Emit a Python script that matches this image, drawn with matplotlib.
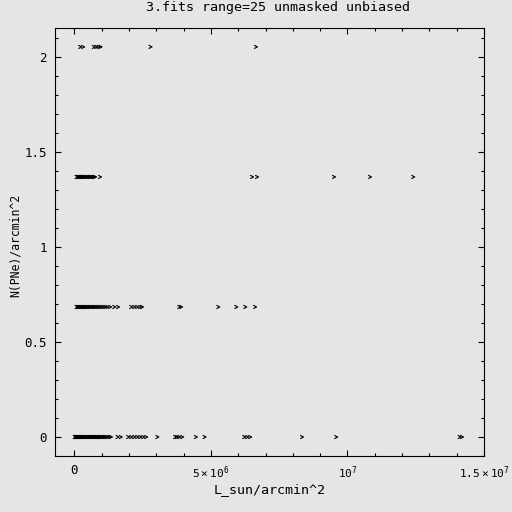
import matplotlib
matplotlib.use("Agg")
import matplotlib.pyplot as plt
from matplotlib.ticker import MultipleLocator

# ----------------------------
# data (x in units of 1e6 L_sun/arcmin^2)
LEVELS = [0.0, 0.6845, 1.369, 2.0535]

x_row0 = [0.0, 0.02, 0.05, 0.08, 0.10, 0.13, 0.15, 0.18, 0.20, 0.22, 0.25, 0.28,
          0.30, 0.33, 0.36, 0.40, 0.43, 0.46, 0.50, 0.53, 0.56, 0.60, 0.63, 0.66,
          0.70, 0.73, 0.77, 0.80, 0.84, 0.88, 0.92, 0.96, 1.00, 1.05, 1.10, 1.15,
          1.20, 1.27, 1.33, 1.57, 1.69, 1.96, 2.07, 2.18, 2.29, 2.40, 2.51, 2.62,
          3.03, 3.68, 3.75, 3.83, 3.94, 4.44, 4.76, 6.21, 6.32, 6.43, 8.33, 9.58,
          14.10, 14.19]
x_row1 = [0.07, 0.10, 0.14, 0.18, 0.22, 0.26, 0.30, 0.34, 0.38, 0.42, 0.46, 0.50,
          0.55, 0.60, 0.65, 0.70, 0.75, 0.80, 0.86, 0.92, 0.98, 1.05, 1.12, 1.20,
          1.30, 1.45, 1.59, 2.07, 2.18, 2.29, 2.40, 2.47, 3.83, 3.90, 5.26, 5.92,
          6.25, 6.61]
x_row2 = [0.07, 0.10, 0.14, 0.18, 0.22, 0.26, 0.30, 0.34, 0.38, 0.42, 0.46, 0.50,
          0.55, 0.60, 0.65, 0.70, 0.75, 0.93, 6.50, 6.68, 9.50, 10.82, 12.40]
x_row3 = [0.20, 0.31, 0.70, 0.79, 0.88, 0.95, 2.78, 6.64]

x_ticks = [0, 5e6, 1e7, 1.5e7]
x_ticklabels = ["0", r"$5\times10^6$", r"$10^7$", r"$1.5\times10^7$"]
y_ticks = [0, 0.5, 1, 1.5, 2]
y_ticklabels = ["0", "0.5", "1", "1.5", "2"]
# ----------------------------

BG = "#e5e5e5"
plt.rcParams["font.family"] = ["DejaVu Sans Mono"]
plt.rcParams["mathtext.default"] = "regular"
plt.rcParams["mathtext.fontset"] = "dejavusans"

fig = plt.figure(figsize=(5.12, 5.12), dpi=100, facecolor=BG)
ax = fig.add_axes([55 / 512, 56 / 512, 429 / 512, 428 / 512], facecolor=BG)

chevron = [(-1, 1), (1, 0), (-1, -1)]
for xs, lev in zip([x_row0, x_row1, x_row2, x_row3], LEVELS):
    ax.scatter([v * 1e6 for v in xs], [lev] * len(xs), marker=chevron, s=6,
               facecolors="none", edgecolors="black", linewidths=0.8)

ax.set_xlim(-0.714e6, 1.5e7)
ax.set_ylim(-0.1, 2.153)
ax.set_xticks(x_ticks)
ax.set_xticklabels(x_ticklabels, fontsize=8)
ax.get_xticklabels()[0].set_fontsize(9)
ax.set_yticks(y_ticks)
ax.set_yticklabels(y_ticklabels, fontsize=9)
ax.xaxis.set_minor_locator(MultipleLocator(1e6))
ax.yaxis.set_minor_locator(MultipleLocator(0.1))
ax.tick_params(which="both", direction="in", top=True, right=True,
               width=0.8, pad=6)
ax.tick_params(which="major", length=4)
ax.tick_params(which="minor", length=2)
for sp in ax.spines.values():
    sp.set_linewidth(0.8)

fig.text(278.5 / 512, 1 - 8 / 512, "3.fits range=25 unmasked unbiased",
         ha="center", va="center", fontsize=9.6)
fig.text(269.5 / 512, 1 - 490 / 512, "L_sun/arcmin^2",
         ha="center", va="center", fontsize=9.6)
fig.text(15 / 512, 1 - 245 / 512, "N(PNe)/arcmin^2", rotation=90,
         ha="center", va="center", fontsize=8.3)

fig.savefig("out.png", dpi=100, facecolor=BG)
